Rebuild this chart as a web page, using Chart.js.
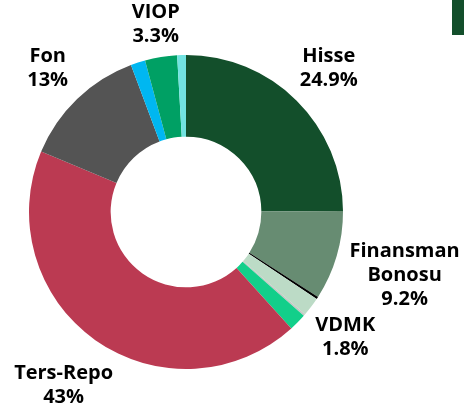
<!DOCTYPE html>
<html><head><meta charset="utf-8">
<script src="https://cdn.jsdelivr.net/npm/chart.js@4/dist/chart.umd.min.js"></script>
<style>
html,body{margin:0;padding:0;background:#fff;}
#wrap{position:relative;width:464px;height:412px;}
#corner{position:absolute;right:0;top:0;width:12px;height:35px;background:#134F2B;}
</style></head><body>
<div id="wrap"><canvas id="c" width="464" height="412"></canvas><div id="corner"></div></div>
<script>
const categories = ["Hisse","Finansman Bonosu","Diğer 1","Diğer 2","Diğer 3","VDMK","Ters-Repo","Fon","Diğer 4","VIOP","Diğer 5"];
const values = [24.9, 9.2, 0.25, 1.95, 0.2, 1.8, 43, 13, 1.5, 3.3, 0.9];
const colors = ["#134F2B","#678C72","#000000","#BCDBC6","#C4C8C4","#12CF8A","#BB3A52","#545454","#00B7F1","#00A064","#72E3E1"];
const labelLines = [["Hisse","24.9%"],["Finansman","Bonosu","9.2%"],null,null,null,["VDMK","1.8%"],["Ters-Repo","43%"],["Fon","13%"],null,["VIOP","3.3%"],null];
const labelDist = [1.29,1.45,null,null,null,1.29,1.35,1.27,null,1.21,null];
const labelTurn = [0,0,0,0,0,-6.5,0,0,0,0,0];

const labelPlugin = {
  id:'outLabels',
  afterDatasetsDraw(chart){
    const ctx = chart.ctx;
    const meta = chart.getDatasetMeta(0);
    ctx.save();
    ctx.font = "bold 20px 'Open Sans'";
    ctx.fillStyle = "#000";
    ctx.textAlign = "center";
    ctx.textBaseline = "middle";
    meta.data.forEach((arc,i)=>{
      const lines = labelLines[i];
      if(!lines) return;
      const mid = (arc.startAngle+arc.endAngle)/2 + labelTurn[i]*Math.PI/180;
      const r = arc.outerRadius*labelDist[i];
      const x = arc.x + Math.cos(mid)*r;
      const y = arc.y + Math.sin(mid)*r;
      const lh = 24;
      const y0 = y - (lines.length-1)*lh/2;
      lines.forEach((t,k)=>ctx.fillText(t,x,y0+k*lh));
    });
    ctx.restore();
  }
};

new Chart(document.getElementById('c'),{
  type:'doughnut',
  data:{labels:categories,datasets:[{data:values,backgroundColor:colors,borderWidth:0}]},
  options:{
    responsive:false,animation:false,cutout:'48%',
    layout:{padding:{left:29,right:121,top:55,bottom:43}},
    plugins:{legend:{display:false},tooltip:{enabled:false}}
  },
  plugins:[labelPlugin]
});
</script></body></html>
